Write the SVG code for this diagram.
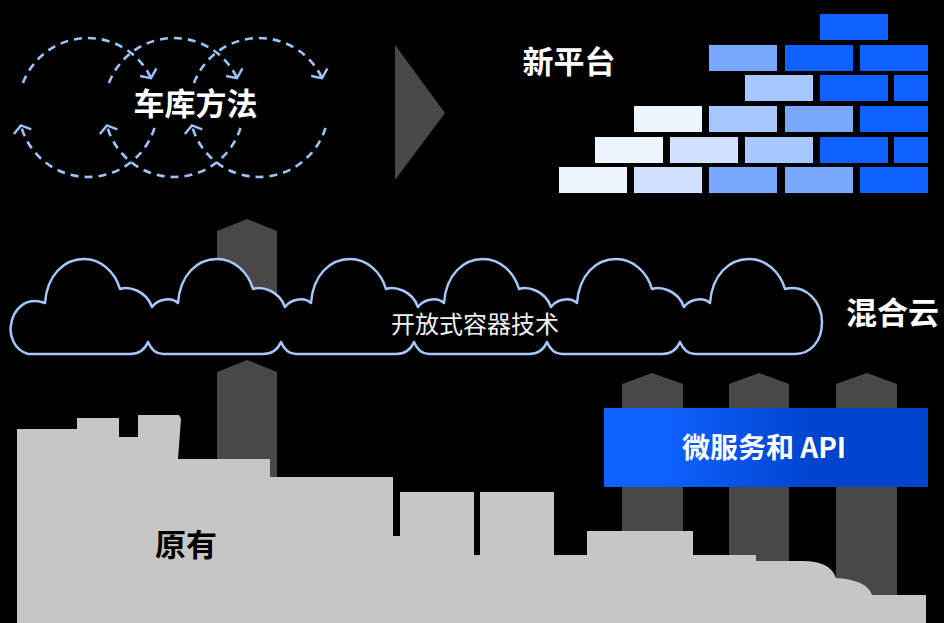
<svg xmlns="http://www.w3.org/2000/svg" width="944" height="623" viewBox="0 0 944 623">
  <defs>
    <style>
      .title { font-family: "Noto Sans CJK SC", "Noto Sans", sans-serif; font-weight: 700; font-size: 31px; fill: #ffffff; text-anchor: middle; }
      .loop { fill: none; stroke: #9ec2fa; stroke-width: 2.6; stroke-dasharray: 8 6; marker-end: url(#chev); }
      .pillar { fill: #484848; }
      .b0 { fill: #0f62fe; }
      .b1 { fill: #78a9ff; }
      .b2 { fill: #a6c8ff; }
      .b3 { fill: #d0e2ff; }
      .b4 { fill: #edf5ff; }
    </style>
    <marker id="chev" markerWidth="20" markerHeight="20" refX="0" refY="0" orient="auto" markerUnits="userSpaceOnUse" overflow="visible">
      <path d="M-6.5,-9 L0,0 L-6.5,9" fill="none" stroke="#9ec2fa" stroke-width="2.4" stroke-dasharray="none"/>
    </marker>
    <linearGradient id="apiGrad" x1="0" y1="0" x2="1" y2="0">
      <stop offset="0" stop-color="#0f62fe"/>
      <stop offset="0.17" stop-color="#0f62fe"/>
      <stop offset="0.65" stop-color="#0043ce"/>
      <stop offset="1" stop-color="#0043ce"/>
    </linearGradient>
  </defs>

  <rect width="944" height="623" fill="#000000"/>

  <!-- iteration loops -->
  <g id="garage-loops">
    <path class="loop" d="M22.95,83.05 A69.5,69.5 0 0 1 151,78.1"/>
    <path class="loop" d="M154.5,127.8 A69.5,69.5 0 0 1 20.9,125.5"/>
    <path class="loop" d="M108.95,83.05 A69.5,69.5 0 0 1 237,78.1"/>
    <path class="loop" d="M240.5,127.8 A69.5,69.5 0 0 1 106.9,125.5"/>
    <path class="loop" d="M193.95,83.05 A69.5,69.5 0 0 1 322,78.1"/>
    <path class="loop" d="M325.5,127.8 A69.5,69.5 0 0 1 191.9,125.5"/>
    <text class="title" x="195.5" y="115">车库方法</text>
  </g>

  <!-- transition arrow -->
  <g id="transition">
    <polygon points="395,45 445,113 395,180" fill="#484848"/>
  </g>

  <!-- brick wall of the new platform -->
  <g id="new-platform">
    <text class="title" x="569" y="73">新平台</text>
    <rect class="b0" x="820" y="14" width="68" height="26"/>

    <rect class="b1" x="709" y="45" width="68" height="26"/>
    <rect class="b0" x="785" y="45" width="68" height="26"/>
    <rect class="b0" x="860" y="45" width="68" height="26"/>

    <rect class="b2" x="745" y="75" width="68" height="26"/>
    <rect class="b0" x="820" y="75" width="68" height="26"/>
    <rect class="b0" x="894" y="75" width="34" height="26"/>

    <rect class="b4" x="634" y="106" width="68" height="26"/>
    <rect class="b2" x="709" y="106" width="68" height="26"/>
    <rect class="b1" x="785" y="106" width="68" height="26"/>
    <rect class="b0" x="860" y="106" width="68" height="26"/>

    <rect class="b4" x="595" y="137" width="68" height="26"/>
    <rect class="b3" x="670" y="137" width="68" height="26"/>
    <rect class="b2" x="745" y="137" width="68" height="26"/>
    <rect class="b0" x="820" y="137" width="68" height="26"/>
    <rect class="b0" x="894" y="137" width="34" height="26"/>

    <rect class="b4" x="559" y="167" width="68" height="26"/>
    <rect class="b3" x="634" y="167" width="68" height="26"/>
    <rect class="b1" x="709" y="167" width="68" height="26"/>
    <rect class="b1" x="785" y="167" width="68" height="26"/>
    <rect class="b0" x="860" y="167" width="68" height="26"/>
  </g>

  <!-- upward pillars -->
  <g id="pillars">
    <polygon class="pillar" points="217,231 247,219 277,231 277,300 217,300"/>
    <polygon class="pillar" points="217,372 247,360 277,372 277,480 217,480"/>
    <polygon class="pillar" points="622,384 652,373 683,384 683,560 622,560"/>
    <polygon class="pillar" points="729,384 759,373 789,384 789,570 729,570"/>
    <polygon class="pillar" points="836,384 867,373 897,384 897,600 836,600"/>
  </g>

  <!-- hybrid cloud band -->
  <g id="hybrid-cloud">
    <path fill="#000000" stroke="#a6c8ff" stroke-width="2.5" stroke-linejoin="round" d="
      M28,354 C14,350 9,335 11,325 C13,310 25,296 45,303
      C47,275 64,259 84,259 C101,259 115,272 120,289
      C128,286 146,290 152,307 C157,300 170,296 178,303
      C180,275 197,259 217,259 C234,259 248,272 253,289
      C261,286 279,290 285,307 C290,300 303,296 311,303
      C313,275 330,259 350,259 C367,259 381,272 386,289
      C394,286 412,290 418,307 C423,300 436,296 444,303
      C446,275 463,259 483,259 C500,259 514,272 519,289
      C527,286 545,290 551,307 C556,300 569,296 577,303
      C579,275 596,259 616,259 C633,259 647,272 652,289
      C660,286 678,290 684,307 C689,300 702,296 710,303
      C712,275 729,259 749,259 C766,259 780,272 785,289
      C806,284 822,302 822,322 C822,342 810,354 795,354
      L695,354 Q685,354 680,342 Q675,354 662,354
      L562,354 Q552,354 547,342 Q542,354 529,354
      L429,354 Q419,354 414,342 Q409,354 396,354
      L296,354 Q286,354 281,342 Q276,354 263,354
      L163,354 Q153,354 148,342 Q143,354 130,354 Z"/>
    <text x="475" y="333" font-family="Noto Sans CJK SC, Noto Sans, sans-serif" font-size="24" fill="#f2f2f2" text-anchor="middle">开放式容器技术</text>
    <text class="title" x="892.5" y="324">混合云</text>
  </g>

  <!-- existing estate skyline -->
  <g id="legacy">
    <path fill="#c6c6c6" d="M17,623 V429 H77 V418 H119 V437 H138 V415 H179 L181,419 L178,459 H270 V477 H393 V536 H400 V492 H474 V555 H480 V492 H554 V555 H587 V531 H693 V555 H756 V561 H803 C820,561 832,566 836,578 C850,579 868,582 872,595 H926 V623 Z"/>
    <text class="title" x="186" y="556" style="fill:#000000">原有</text>
  </g>

  <!-- microservices banner -->
  <g id="microservices">
    <rect x="604" y="408" width="324" height="79" fill="url(#apiGrad)"/>
    <text x="764" y="458" font-family="Noto Sans CJK SC, Noto Sans, sans-serif" font-weight="700" font-size="28" fill="#ffffff" text-anchor="middle">微服务和 API</text>
  </g>
</svg>
